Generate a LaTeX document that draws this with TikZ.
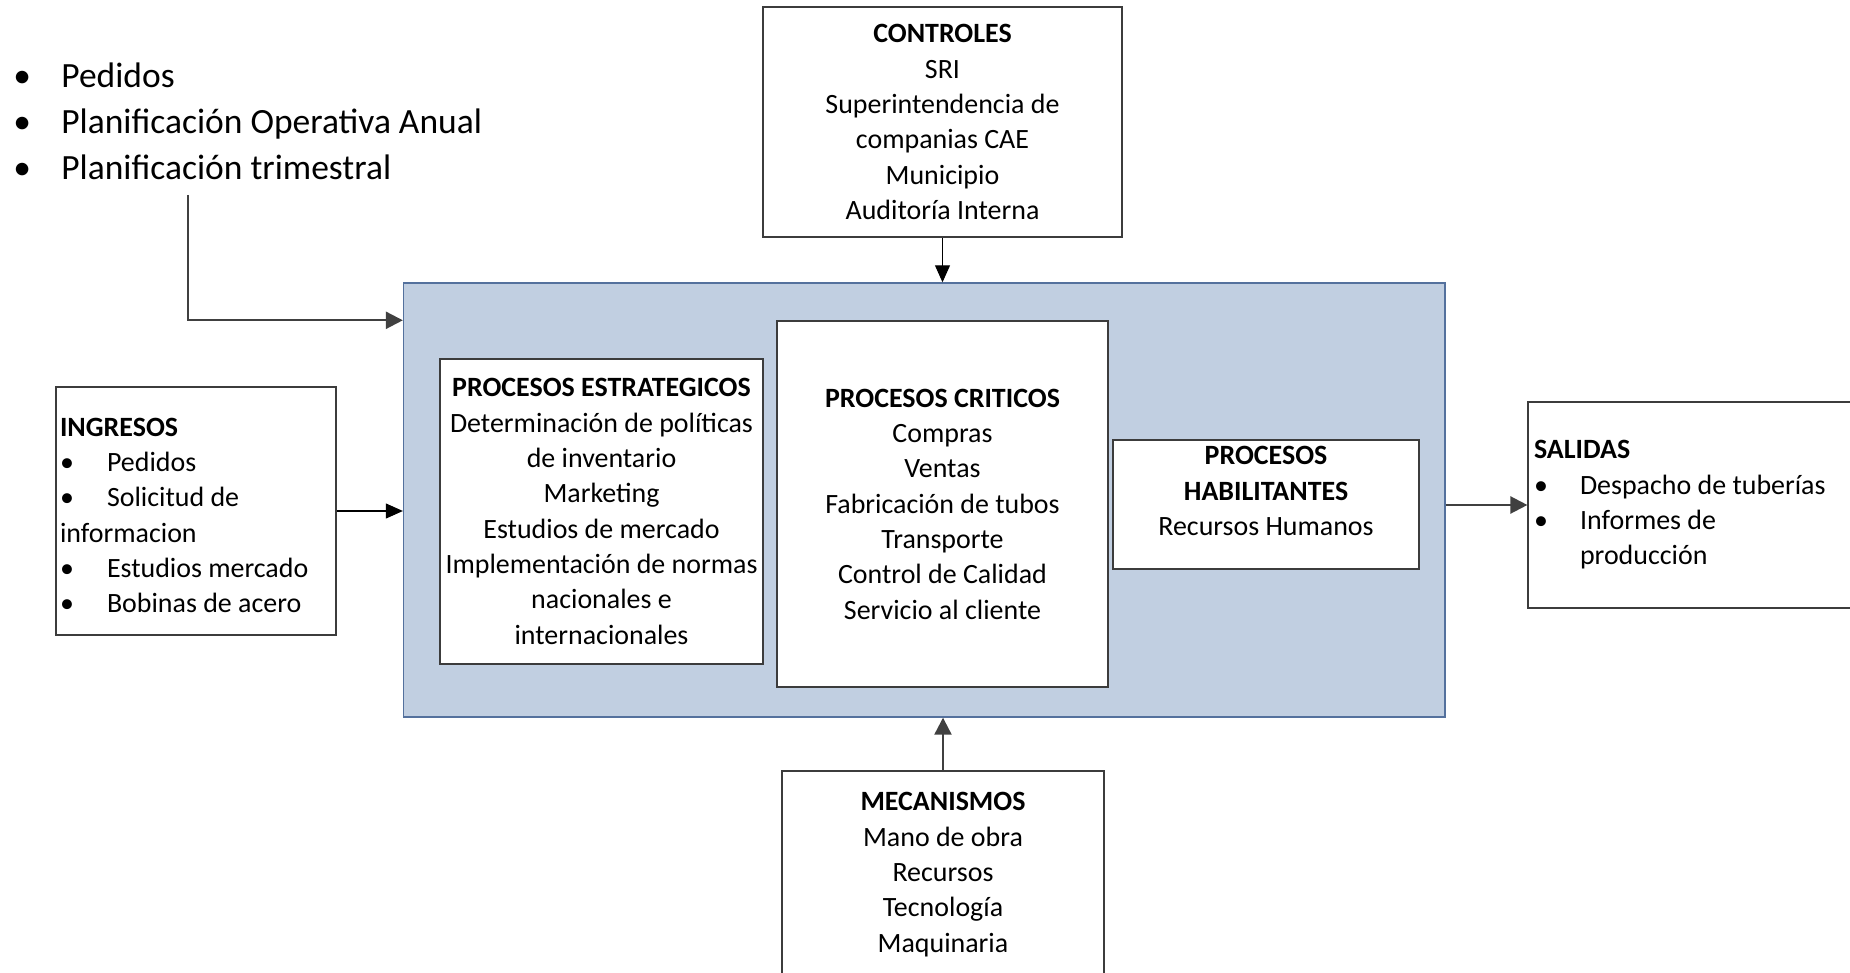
\documentclass[tikz,border=0pt]{standalone}
\usepackage{fontspec}
\setmainfont{Carlito}
\usetikzlibrary{arrows.meta, calc, shadows}
\definecolor{fondoazul}{RGB}{193,207,225}
\definecolor{bordeazul}{RGB}{84,113,157}
\definecolor{bordegris}{RGB}{60,60,60}
\definecolor{flechagris}{RGB}{64,64,64}
\newcommand{\cajafont}{\fontsize{15.9}{20.1}\selectfont}
\newcommand{\listafont}{\fontsize{20.2}{26.2}\selectfont}
\newcommand{\vineta}[1][0.92cm]{\makebox[#1][l]{\textbullet}}

\begin{document}
\begin{tikzpicture}[x=0.02cm, y=-0.02cm,
    caja/.style={draw=bordegris, line width=0.7pt, fill=white, font=\cajafont,
        align=center, inner sep=0pt,
        drop shadow={shadow xshift=0.03cm, shadow yshift=-0.03cm, fill=black!25, opacity=1}},
    sistema/.style={draw=bordeazul, line width=0.85pt, fill=fondoazul},
    flecha fina/.style={draw=black, line width=0.6pt, -{Triangle[length=0.34cm, width=0.3cm]}},
    flecha gruesa/.style={draw=flechagris, line width=1.3pt, -{Triangle[length=0.34cm, width=0.34cm]}}]

\useasboundingbox (0,0) rectangle (1850,973);
\clip (0,0) rectangle (1850,973);

% === Sistema central ===
\node[sistema, minimum width=20.83cm, minimum height=8.68cm] (sistema) at (924.25,500) {};

\node[caja, minimum width=6.46cm, minimum height=6.1cm] (estrategicos) at (601.5,511.5)
    {\textbf{PROCESOS ESTRATEGICOS}\\Determinación de políticas\\de inventario\\Marketing\\
     Estudios de mercado\\Implementación de normas\\nacionales e\\internacionales};

\node[caja, minimum width=6.62cm, minimum height=7.32cm] (criticos) at (942.5,504)
    {\textbf{PROCESOS CRITICOS}\\Compras\\Ventas\\Fabricación de tubos\\Transporte\\
     Control de Calidad\\Servicio al cliente};

\node[caja, minimum width=6.12cm, minimum height=2.58cm] (habilitantes) at (1266,504.5)
    {\textbf{PROCESOS}\\\textbf{HABILITANTES}\\Recursos Humanos\\[-10.7pt]\strut};

% === Controles / mecanismos ===
\node[caja, minimum width=7.18cm, minimum height=4.6cm] (controles) at (942.5,122)
    {\textbf{CONTROLES}\\SRI\\Superintendencia de\\companias CAE\\Municipio\\Auditoría Interna};

\node[caja, minimum width=6.44cm, minimum height=4.14cm] (mecanismos) at (943,874.5)
    {\textbf{MECANISMOS}\\Mano de obra\\Recursos\\Tecnología\\Maquinaria};

% === Ingresos / salidas ===
\node[caja, align=flush left, text width=5.44cm, inner xsep=0.08cm,
    minimum width=5.6cm, minimum height=4.96cm] (ingresos) at (196,511)
    {\rule{0pt}{15.5pt}\textbf{INGRESOS}\\\vineta[0.94cm]Pedidos\\\vineta[0.94cm]Solicitud de\\informacion\\
     \vineta[0.94cm]Estudios mercado\\\vineta[0.94cm]Bobinas de acero};

\node[caja, align=flush left, text width=6.4cm, inner xsep=0.12cm,
    minimum width=6.64cm, minimum height=4.12cm] (salidas) at (1694,505)
    {\textbf{SALIDAS}\\\vineta Despacho de tuberías\\\vineta Informes de\\
     \hspace*{0.92cm}producción};

% === Lista superior ===
\node[font=\listafont, align=flush left, inner sep=0pt, anchor=west] (pedidos) at (13,121)
    {\vineta[0.96cm]Pedidos\\\vineta[0.96cm]Planificación Operativa Anual\\
     \vineta[0.96cm]Planificación trimestral};
\coordinate (origen) at (188,195);

% === Flechas ===
\draw[flecha gruesa] (origen) |- ($(sistema.north west)+(0,38)$);
\draw[flecha fina] (controles.south) -- (controles.south |- sistema.north);
\draw[flecha fina] (ingresos.east) -- (ingresos.east -| sistema.west);
\draw[flecha gruesa] (sistema.east |- salidas.west) -- (salidas.west);
\draw[flecha gruesa] (mecanismos.north) -- (mecanismos.north |- sistema.south);

\end{tikzpicture}
\end{document}
